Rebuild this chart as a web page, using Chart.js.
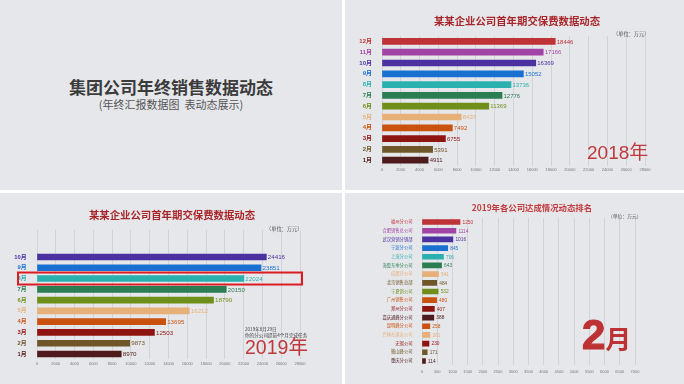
<!DOCTYPE html>
<html><head><meta charset="utf-8">
<script src="https://cdn.jsdelivr.net/npm/chart.js@4.4.1/dist/chart.umd.min.js"></script>
<style>
html,body{margin:0;padding:0;background:#ffffff;width:684px;height:384px;overflow:hidden;font-family:"Noto Sans CJK SC","Liberation Sans",sans-serif;}
.panel{position:absolute;background:#e6e7eb;overflow:hidden;}
.t{position:absolute;white-space:nowrap;line-height:1;}
canvas{position:absolute;left:0;top:0;}
</style></head><body>

<div class="panel" style="left:0;top:0;width:342px;height:190px;">
  <div class="t" style="left:0;width:342px;text-align:center;top:78px;font-size:17px;font-weight:bold;color:#3b3b3b;">集团公司年终销售数据动态</div>
  <div class="t" style="left:0;width:342px;text-align:center;top:99px;font-size:11px;color:#555;">(年终汇报数据图&nbsp;&nbsp;表动态展示)</div>
</div>

<div class="panel" style="left:345px;top:0;width:339px;height:190px;">
  <canvas id="c2018" width="339" height="190"></canvas>
  <div class="t" style="left:22px;width:300px;text-align:center;top:16px;font-size:10.4px;font-weight:bold;color:#a8262a;">某某企业公司首年期交保费数据动态</div>
  <div class="t" style="left:268px;top:30.5px;font-size:5.2px;color:#555;">（单位：万元）</div>
  <div class="t" style="left:242px;top:142.5px;font-size:19px;color:#c0393b;font-family:'Liberation Sans','Noto Sans CJK SC',sans-serif;">2018年</div>
</div>

<div class="panel" style="left:0;top:193px;width:342px;height:191px;">
  <canvas id="c2019" width="342" height="191"></canvas>
  <div class="t" style="left:22px;width:300px;text-align:center;top:17px;font-size:10.4px;font-weight:bold;color:#a8262a;">某某企业公司首年期交保费数据动态</div>
  <div class="t" style="left:266px;top:32.5px;font-size:5.2px;color:#555;">（单位：万元）</div>
  <div class="t" style="left:245px;top:133.5px;font-size:4.6px;color:#444;">2019年8月29日</div>
  <div class="t" style="left:245px;top:139.5px;font-size:4.6px;color:#444;">你的分公司提前4个月完成任务</div>
  <div class="t" style="left:245px;top:144.5px;font-size:19.5px;color:#c0393b;font-family:'Liberation Sans','Noto Sans CJK SC',sans-serif;">2019年</div>
</div>

<div class="panel" style="left:345px;top:193px;width:339px;height:191px;">
  <canvas id="cRank" width="339" height="191"></canvas>
  <div class="t" style="left:37px;width:300px;text-align:center;top:10px;font-size:8.4px;font-weight:bold;color:#c23c3e;">2019年各公司达成情况动态排名</div>
  <div class="t" style="left:263px;top:20.5px;font-size:4.8px;color:#555;">（单位：万元）</div>
  <div class="t" style="left:237px;top:120.5px;font-weight:bold;color:#bd3234;font-family:'Liberation Sans','Noto Sans CJK SC',sans-serif;"><span style="font-size:42px;-webkit-text-stroke:1.2px #bd3234;">2</span><span style="font-size:26px;">月</span></div>
</div>

<script>
// ---- data ----
const months = ['1月','2月','3月','4月','5月','6月','7月','8月','9月','10月','11月','12月'];
const sales2018 = [4911, 5391, 6755, 7492, 8437, 11369, 12776, 13736, 15052, 16369, 17166, 18446];
const sales2019 = [8970, 9873, 12503, 13695, 16212, 18790, 20150, 22024, 23851, 24416, null, null];
const monthTicks = [0,2000,4000,6000,8000,10000,12000,14000,16000,18000,20000,22000,24000,26000,28000];

const companies = ['福州分公司','合肥销售总公司','武汉营销分销部','宁波分公司','上海分公司','海鲁东季分公司','成都分公司','北京销售总部','宁夏销公司','广州销售公司','郑州分公司','嘉庆通峰分公司','昆明峰分公司','巴林左旗支公司','无锡公司','鞍山峰公司','重庆分公司'];
const companyValues = [1250, 1114, 1016, 845, 706, 643, 541, 484, 532, 480, 407, 388, 258, 261, 230, 171, 114];
const rankTicks = [0,500,1000,1500,2000,2500,3000,3500,4000,4500,5000,5500,6000,6500,7000];

// ---- styles ----
const monthColors = ['#4f1a1c','#6e5628','#8e1410','#c9520f','#e6b078','#6f8f1a','#2b7d52','#2bb0b0','#1a70d0','#4b30a0','#a244a5','#bf3236'];
const companyColors = ['#bf3236','#a244a5','#4b30a0','#1a70d0','#2bb0b0','#2b7d52','#e6b078','#6e5628','#6f8f1a','#c9520f','#8e1410','#4f1a1c','#c9520f','#e6b078','#8e1410','#6e5628','#4f1a1c'];
const FAM = "'Liberation Sans','Noto Sans CJK SC',sans-serif";

const valueLabels = {
  id: 'valueLabels',
  afterDatasetsDraw(chart, args, opts) {
    const ctx = chart.ctx;
    const meta = chart.getDatasetMeta(0);
    const ds = chart.data.datasets[0];
    ctx.save();
    ctx.font = opts.size + 'px ' + FAM;
    ctx.textBaseline = 'middle';
    ctx.textAlign = 'left';
    meta.data.forEach((bar, i) => {
      const v = ds.data[i];
      if (v == null) return;
      ctx.fillStyle = ds.backgroundColor[i];
      ctx.fillText(String(v), bar.x + opts.gap, bar.y + 0.5);
    });
    ctx.restore();
  }
};

const highlightBox = {
  id: 'highlightBox',
  afterDatasetsDraw(chart, args, opts) {
    if (!opts || opts.index == null) return;
    const y = chart.scales.y.getPixelForValue(opts.index);
    const a = chart.chartArea;
    const ctx = chart.ctx;
    ctx.save();
    ctx.strokeStyle = '#dc1c22';
    ctx.lineWidth = 2;
    ctx.strokeRect(a.left - 19, y - 6, a.right - a.left + 21, 12);
    ctx.restore();
  }
};

function barChart(id, o) {
  const data = o.values;
  return new Chart(document.getElementById(id), {
    type: 'bar',
    data: {
      labels: o.labels,
      datasets: [{
        data: data,
        backgroundColor: o.colors,
        borderWidth: 0,
        barThickness: o.thick
      }]
    },
    options: {
      indexAxis: 'y',
      responsive: false,
      animation: false,
      events: [],
      layout: { padding: o.pad },
      plugins: {
        legend: { display: false },
        tooltip: { enabled: false },
        title: { display: false },
        valueLabels: { size: o.valSize, gap: o.gap },
        highlightBox: { index: o.highlight }
      },
      scales: {
        x: {
          type: 'linear',
          min: 0,
          max: o.ticks[o.ticks.length - 1],
          afterBuildTicks: (s) => { s.ticks = o.ticks.map(v => ({ value: v })); },
          afterFit: (s) => { s.height = 10; },
          grid: { color: '#d2d3d7', lineWidth: 1, drawTicks: false },
          border: { display: false },
          ticks: {
            font: { size: 4, family: FAM }, color: '#777', padding: o.xPad, maxRotation: 0, autoSkip: false,
            callback: (v) => String(v)
          }
        },
        y: {
          reverse: o.reverse,
          afterFit: (s) => { s.width = o.yWidth; },
          grid: { display: false },
          border: { display: false },
          ticks: {
            font: { size: o.ySize, weight: o.yWeight, family: FAM },
            color: (c) => o.colors[c.index],
            padding: o.yPad,
            autoSkip: false,
            callback: function (v, i) { return data[i] == null ? '' : o.labels[i]; }
          }
        }
      }
    },
    plugins: [valueLabels, highlightBox]
  });
}

barChart('c2018', {
  labels: months, values: sales2018, colors: monthColors, ticks: monthTicks,
  thick: 6, reverse: true, yWidth: 37, yPad: 2, ySize: 6, yWeight: 'bold', valSize: 6, gap: 1.5, xPad: 1.5,
  pad: { left: 0, right: 39, top: 36, bottom: 14.4 }, highlight: null
});

barChart('c2019', {
  labels: months, values: sales2019, colors: monthColors, ticks: monthTicks,
  thick: 6, reverse: true, yWidth: 37, yPad: 2.5, ySize: 5.8, yWeight: 'bold', valSize: 6.2, gap: 1.5, xPad: 2.5,
  pad: { left: 0, right: 42, top: 37, bottom: 14.6 }, highlight: 7
});

barChart('cRank', {
  labels: companies, values: companyValues, colors: companyColors, ticks: rankTicks,
  thick: 5, reverse: false, yWidth: 77, yPad: 1.5, ySize: 4.3, yWeight: 'normal', valSize: 4.8, gap: 2.5, xPad: 4,
  pad: { left: 0, right: 49, top: 24.7, bottom: 8.7 }, highlight: null
});
</script>
</body></html>
